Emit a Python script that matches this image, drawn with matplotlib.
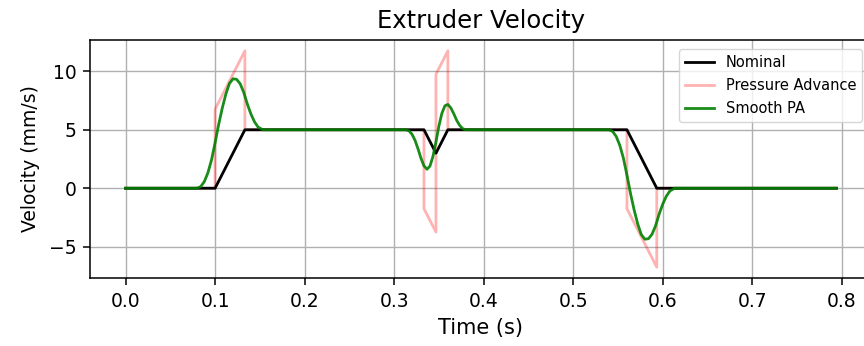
import matplotlib
matplotlib.use('Agg')
import matplotlib.pyplot as plt

# Nominal extruder velocity (piecewise linear breakpoints)
nominal_t = [0.0, 0.1, 0.1333, 0.3333, 0.3467, 0.36, 0.56, 0.5933, 0.794]
nominal_v = [0.0, 0.0, 4.99, 4.99, 2.99, 4.99, 4.99, 0.0, 0.0]

# Raw pressure advance velocity (jumps drawn as repeated times)
pa_t = [0.0, 0.1, 0.1, 0.1333, 0.1333, 0.3333, 0.3333, 0.3467, 0.3467,
        0.36, 0.36, 0.56, 0.56, 0.5933, 0.5933, 0.794]
pa_v = [0.0, 0.0, 6.74, 11.73, 4.99, 4.99, -1.75, -3.74, 9.73,
        11.73, 4.99, 4.99, -1.75, -6.74, 0.0, 0.0]

# Smoothed pressure advance velocity
smooth_t = [0.0, 0.080, 0.084, 0.088, 0.092, 0.096, 0.100, 0.104, 0.108,
            0.112, 0.116, 0.120, 0.124, 0.128, 0.132, 0.136, 0.140, 0.144,
            0.148, 0.1533,
            0.3133, 0.3167, 0.3200, 0.3233, 0.3267, 0.3300, 0.3333, 0.3367,
            0.3400, 0.3433, 0.3467, 0.3500, 0.3533, 0.3567, 0.3600, 0.3633,
            0.3667, 0.3700, 0.3733, 0.3767, 0.3800,
            0.540, 0.544, 0.548, 0.552, 0.556, 0.560, 0.564, 0.568, 0.572,
            0.576, 0.580, 0.584, 0.588, 0.592, 0.596, 0.600, 0.604, 0.608,
            0.6133, 0.794]
smooth_v = [0.0, 0.0, 0.14, 0.57, 1.32, 2.41, 3.87, 5.44, 6.83,
            8.03, 8.94, 9.34, 9.30, 8.92, 8.19, 7.19, 6.34, 5.67,
            5.22, 4.99,
            4.99, 4.89, 4.60, 4.09, 3.35, 2.55, 1.91, 1.62,
            1.89, 2.70, 3.96, 5.32, 6.39, 7.04, 7.15, 6.86,
            6.34, 5.77, 5.35, 5.08, 4.99,
            4.99, 4.85, 4.42, 3.67, 2.58, 1.12, -0.45, -1.84, -3.04,
            -3.95, -4.35, -4.31, -3.93, -3.20, -2.20, -1.35, -0.68, -0.23,
            0.0, 0.0]

fig = plt.figure(figsize=(8.64, 3.46), dpi=100)
ax = fig.add_axes([90 / 864, 68 / 346, 782 / 864, 238 / 346])

pa_line, = ax.plot(pa_t, pa_v, 'r', alpha=0.3, linewidth=2,
                   label='Pressure Advance')
nom_line, = ax.plot(nominal_t, nominal_v, 'black', linewidth=2,
                    label='Nominal')
sm_line, = ax.plot(smooth_t, smooth_v, 'g', alpha=0.9, linewidth=2,
                   label='Smooth PA')

ax.set_title('Extruder Velocity', fontsize=17.5, pad=8.5)
ax.set_xlabel('Time (s)', fontsize=15, labelpad=5.5)
ax.set_ylabel('Velocity (mm/s)', fontsize=13.5, labelpad=6)
ax.tick_params(labelsize=13.5, length=4.9, width=1.1, pad=4.9)
ax.set_xticks([0.0, 0.1, 0.2, 0.3, 0.4, 0.5, 0.6, 0.7, 0.8])
ax.set_yticks([-5, 0, 5, 10])
ax.grid(True, linewidth=1.0)
for spine in ax.spines.values():
    spine.set_linewidth(1.1)

ax.legend(handles=[nom_line, pa_line, sm_line], loc='upper right',
          bbox_to_anchor=(862 / 864, 297 / 346),
          bbox_transform=fig.transFigure, borderaxespad=0, fontsize=10.5,
          labelspacing=0.55)

fig.savefig('out.png', dpi=100)
